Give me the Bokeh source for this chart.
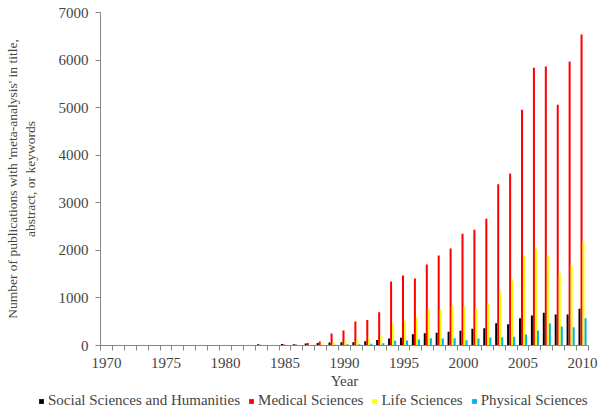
from bokeh.plotting import figure
from bokeh.models import FixedTicker, Legend, LegendItem, ColumnDataSource, Range1d
from bokeh.transform import dodge
from bokeh.layouts import column
from bokeh.embed import file_html
from bokeh.resources import INLINE

years = list(range(1970, 2011))

social = [0, 0, 0, 0, 0, 0, 0, 0, 0, 0,
          3, 2, 5, 25, 10, 30, 25, 40, 55, 65,
          70, 70, 91, 115, 147, 161, 235, 259, 266, 287,
          308, 350, 364, 469, 448, 575, 631, 687, 652, 652,
          770]
medical = [0, 0, 0, 0, 0, 0, 0, 0, 0, 0,
           5, 3, 10, 15, 10, 20, 20, 55, 85, 250,
           315, 504, 535, 700, 1345, 1471, 1408, 1703, 1892, 2039,
           2347, 2431, 2663, 3391, 3616, 4954, 5837, 5865, 5059, 5970,
           6537]
life = [0, 0, 0, 0, 0, 0, 0, 0, 0, 0,
        0, 0, 0, 0, 0, 0, 0, 5, 25, 70,
        105, 126, 150, 210, 469, 520, 590, 770, 750, 834,
        820, 778, 883, 1128, 1380, 1878, 2053, 1892, 1520, 1682,
        2186]
physical = [0, 0, 0, 0, 0, 0, 0, 0, 0, 0,
            0, 0, 0, 0, 0, 0, 0, 0, 5, 15,
            25, 25, 35, 45, 98, 105, 126, 150, 145, 154,
            112, 147, 168, 175, 182, 231, 315, 469, 399, 385,
            575]

series_names = ["Social Sciences and Humanities", "Medical Sciences",
                "Life Sciences", "Physical Sciences"]
series_keys = ["social", "medical", "life", "physical"]
colors = ["#000000", "#FF0000", "#FFFF00", "#00B0F0"]
x_tick_years = [1970, 1975, 1980, 1985, 1990, 1995, 2000, 2005, 2010]
y_ticks = [0, 1000, 2000, 3000, 4000, 5000, 6000, 7000]

source = ColumnDataSource(dict(year=years, social=social, medical=medical,
                               life=life, physical=physical))

FONT = "Liberation Serif"
AXIS_COLOR = "#868686"

p = figure(width=600, height=392, output_backend="svg", toolbar_location=None,
           x_range=Range1d(1969.5, 2010.5), y_range=Range1d(0, 7000),
           min_border_top=12, min_border_right=12, min_border_bottom=47,
           min_border_left=100)
p.frame_align = False
p.outline_line_color = None
p.xgrid.visible = False
p.ygrid.visible = False

bar_w = 0.17
offsets = [-0.255, -0.085, 0.085, 0.255]
for key, col, off in zip(series_keys, colors, offsets):
    p.vbar(x=dodge("year", off, range=p.x_range), top=key, width=bar_w,
           bottom=0, source=source, fill_color=col, line_color=None)

# x axis
p.xaxis.ticker = FixedTicker(ticks=x_tick_years,
                             minor_ticks=[y - 0.5 for y in years] + [years[-1] + 0.5])
p.xaxis.major_tick_line_color = None
p.xaxis.minor_tick_in = 0
p.xaxis.minor_tick_out = 5
p.xaxis.minor_tick_line_color = AXIS_COLOR
p.xaxis.axis_line_color = AXIS_COLOR
p.xaxis.axis_label = "Year"
p.xaxis.axis_label_text_font = FONT
p.xaxis.axis_label_text_font_style = "normal"
p.xaxis.axis_label_text_font_size = "15px"
p.xaxis.axis_label_standoff = 2
p.xaxis.major_label_text_font = FONT
p.xaxis.major_label_text_font_size = "15px"
p.xaxis.major_label_standoff = 6

# y axis
p.yaxis.ticker = FixedTicker(ticks=y_ticks)
p.yaxis.minor_tick_line_color = None
p.yaxis.major_tick_in = 0
p.yaxis.major_tick_out = 5
p.yaxis.major_tick_line_color = AXIS_COLOR
p.yaxis.axis_line_color = AXIS_COLOR
p.yaxis.axis_label = "Number of publications with 'meta-analysis' in title,\nabstract, or keywords"
p.yaxis.axis_label_text_font = FONT
p.yaxis.axis_label_text_font_style = "normal"
p.yaxis.axis_label_text_font_size = "13.5px"
p.yaxis.axis_label_standoff = 18
p.yaxis.major_label_text_font = FONT
p.yaxis.major_label_text_font_size = "15px"
p.yaxis.major_label_standoff = 7

# legend strip below the chart
lg = figure(width=600, height=22, output_backend="svg", toolbar_location=None,
            x_range=Range1d(0, 1), y_range=Range1d(0, 1),
            min_border=0, x_axis_type=None, y_axis_type=None)
lg.frame_align = False
lg.outline_line_color = None
lg.xgrid.visible = False
lg.ygrid.visible = False
leg_renderers = []
for key, col in zip(series_keys, colors):
    leg_renderers.append(lg.vbar(x="year", top=key, width=0.5, source=source,
                                 fill_color=col, line_color=None))

legend = Legend(items=[LegendItem(label=n, renderers=[r])
                       for n, r in zip(series_names, leg_renderers)],
                orientation="horizontal", location=(38, 5),
                glyph_width=6, glyph_height=6, label_standoff=4, spacing=8,
                label_height=15,
                label_text_font=FONT, label_text_font_size="15px",
                padding=0, margin=0, border_line_color=None,
                background_fill_alpha=0)
lg.add_layout(legend, "center")

layout = column(p, lg, spacing=0)
open("out.html", "w").write(file_html(layout, INLINE))
